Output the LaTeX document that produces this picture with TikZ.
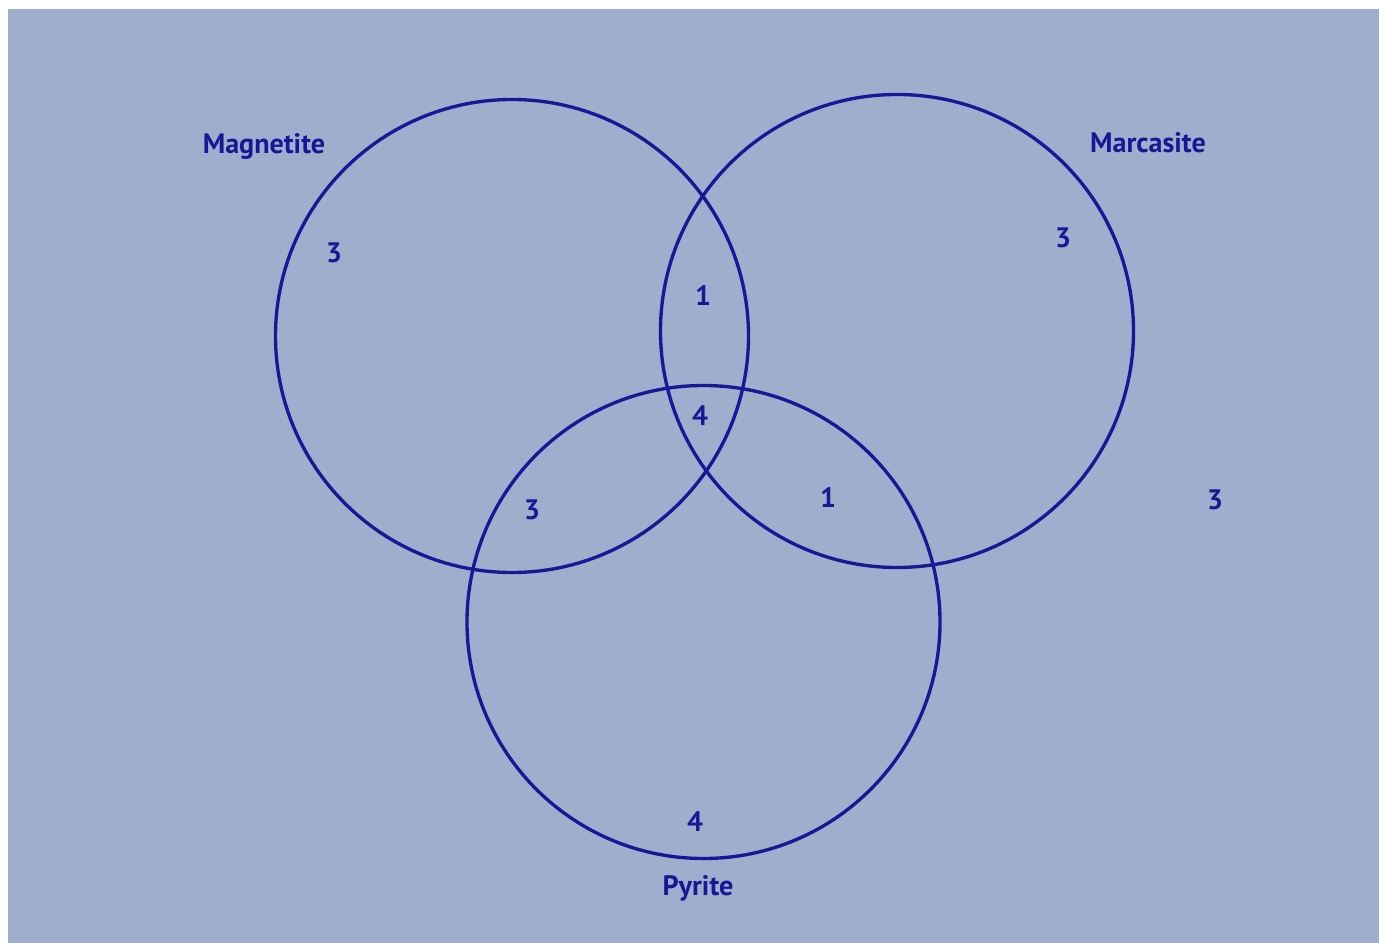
\documentclass[tikz,border=0pt]{standalone}
\usepackage{fontspec}
\setmainfont{PT Sans}
\usepackage{tikz}
\usetikzlibrary{positioning, backgrounds}
\definecolor{ink}{RGB}{24,24,150}
\definecolor{paper}{RGB}{158,174,204}

\begin{document}
\begin{tikzpicture}[
            set/.style={circle, draw=ink, line width=1.9pt, minimum size=9.46cm, inner sep=0pt},
            setname/.style={text=ink, font=\fontsize{16}{18}\selectfont\bfseries},
            count/.style={text=ink, font=\fontsize{16}{18}\selectfont\bfseries}
        ]
        \useasboundingbox (0,0) rectangle (27.74,18.84);
        \fill [paper] (0.16,-0.1) rectangle (27.58,18.66);
        % the three sets
        \node [set] (mag) at (10.24,12.12) {};
        \node [set] (mar) at (17.94,12.22) {};
        \node [set] (pyr) at (14.07,6.40) {};
        % names
        \node [setname] (magname) at (5.28,15.92) {Magnetite};
        \node [setname] (marname) at (22.96,15.98) {Marcasite};
        \node [setname] (pyrname) at (13.96,1.08) {Pyrite};
        % counts
        \node [count] (nmag) at (6.68,13.78) {3};
        \node [count] (nmar) at (21.26,14.08) {3};
        \node [count] (nmagmar) at (14.06,12.94) {1};
        \node [count] (nall) at (14.00,10.52) {4};
        \node [count] (nmagpyr) at (10.64,8.64) {3};
        \node [count] (nmarpyr) at (16.56,8.90) {1};
        \node [count] (nnone) at (24.30,8.84) {3};
        \node [count] (npyr) at (13.90,2.40) {4};
    \end{tikzpicture}
\end{document}
